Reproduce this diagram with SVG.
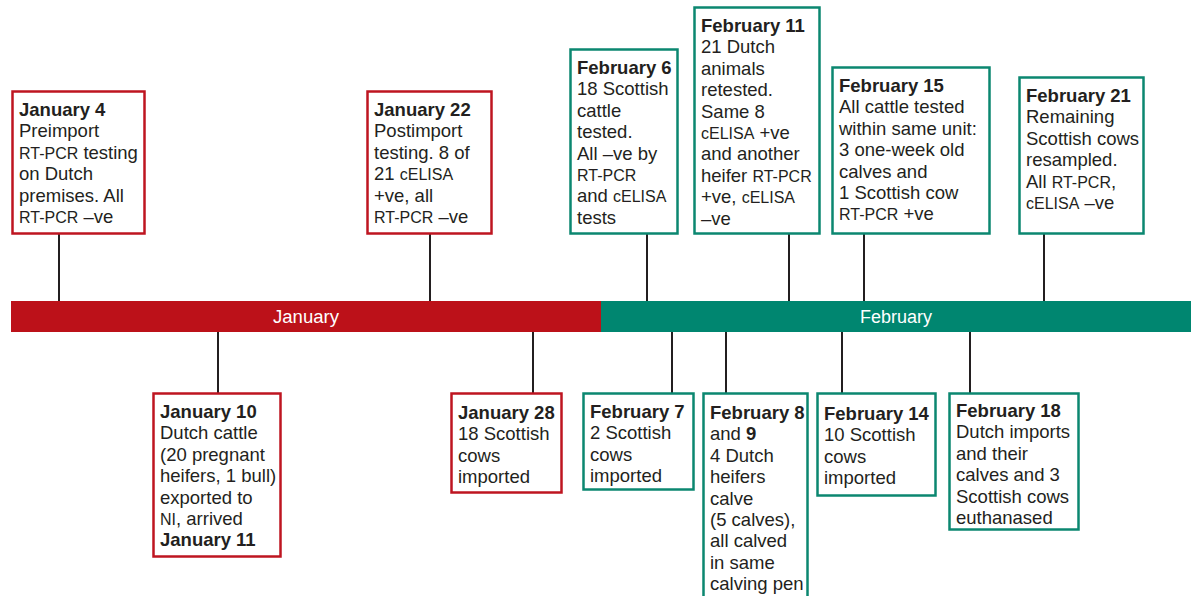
<svg xmlns="http://www.w3.org/2000/svg" width="1198" height="596" viewBox="0 0 1198 596">
<style>
.bg{fill:#ffffff}
.red{fill:#ffffff;stroke:#BE1520;stroke-width:2.5}
.grn{fill:#ffffff;stroke:#0B8770;stroke-width:2.5}
.t{font-family:"Liberation Sans",Arial,sans-serif;font-size:18.5px;fill:#231F20}
.b{font-weight:bold}
.s{font-size:16px}
.tick{stroke:#231F20;stroke-width:2}
.bar{font-family:"Liberation Sans",Arial,sans-serif;font-size:18px;fill:#ffffff;text-anchor:middle}
</style>
<rect class="bg" x="0" y="0" width="1198" height="596"/>
<g id="timeline">
<rect x="11" y="301" width="590" height="31" fill="#BC1119"/>
<rect x="601" y="301" width="590" height="31" fill="#008670"/>
<text class="bar" x="306" y="323" textLength="66" lengthAdjust="spacingAndGlyphs">January</text>
<text class="bar" x="896" y="323" textLength="72" lengthAdjust="spacingAndGlyphs">February</text>
</g>
<g id="connectors">
<line class="tick" x1="59" y1="234" x2="59" y2="301"/>
<line class="tick" x1="430" y1="234" x2="430" y2="301"/>
<line class="tick" x1="647" y1="234" x2="647" y2="301"/>
<line class="tick" x1="789" y1="234" x2="789" y2="301"/>
<line class="tick" x1="864" y1="234" x2="864" y2="301"/>
<line class="tick" x1="1044" y1="234" x2="1044" y2="301"/>
<line class="tick" x1="218" y1="332" x2="218" y2="393"/>
<line class="tick" x1="533" y1="332" x2="533" y2="393"/>
<line class="tick" x1="672" y1="332" x2="672" y2="393"/>
<line class="tick" x1="726" y1="332" x2="726" y2="393"/>
<line class="tick" x1="842" y1="332" x2="842" y2="393"/>
<line class="tick" x1="970" y1="332" x2="970" y2="393"/>
</g>
<g id="jan4">
<rect class="red" x="12.5" y="91.5" width="132" height="142"/>
<text class="t"><tspan class="b" x="19" y="116">January 4</tspan><tspan x="19" y="137.4">Preimport</tspan><tspan x="19" y="158.8"><tspan class="s">RT-PCR</tspan> testing</tspan><tspan x="19" y="180.2">on Dutch</tspan><tspan x="19" y="201.6">premises. All</tspan><tspan x="19" y="223"><tspan class="s">RT-PCR</tspan> –ve</tspan></text>
</g>
<g id="jan22">
<rect class="red" x="367.5" y="91.5" width="124" height="142"/>
<text class="t"><tspan class="b" x="374" y="116">January 22</tspan><tspan x="374" y="137.4">Postimport</tspan><tspan x="374" y="158.8">testing. 8 of</tspan><tspan x="374" y="180.2">21 <tspan class="s">cELISA</tspan></tspan><tspan x="374" y="201.6">+ve, all</tspan><tspan x="374" y="223"><tspan class="s">RT-PCR</tspan> –ve</tspan></text>
</g>
<g id="feb6">
<rect class="grn" x="570.5" y="49.5" width="107" height="184"/>
<text class="t"><tspan class="b" x="577" y="74">February 6</tspan><tspan x="577" y="95.4">18 Scottish</tspan><tspan x="577" y="116.8">cattle</tspan><tspan x="577" y="138.2">tested.</tspan><tspan x="577" y="159.6">All –ve by</tspan><tspan x="577" y="181"><tspan class="s">RT-PCR</tspan></tspan><tspan x="577" y="202.4">and <tspan class="s">cELISA</tspan></tspan><tspan x="577" y="223.8">tests</tspan></text>
</g>
<g id="feb11">
<rect class="grn" x="694.5" y="7.5" width="125" height="226"/>
<text class="t"><tspan class="b" x="701" y="32">February 11</tspan><tspan x="701" y="53.4">21 Dutch</tspan><tspan x="701" y="74.8">animals</tspan><tspan x="701" y="96.2">retested.</tspan><tspan x="701" y="117.6">Same 8</tspan><tspan x="701" y="139"><tspan class="s">cELISA</tspan> +ve</tspan><tspan x="701" y="160.4">and another</tspan><tspan x="701" y="181.8">heifer <tspan class="s">RT-PCR</tspan></tspan><tspan x="701" y="203.2">+ve, <tspan class="s">cELISA</tspan></tspan><tspan x="701" y="224.6">–ve</tspan></text>
</g>
<g id="feb15">
<rect class="grn" x="832.5" y="67.5" width="157" height="166"/>
<text class="t"><tspan class="b" x="839" y="92">February 15</tspan><tspan x="839" y="113.4">All cattle tested</tspan><tspan x="839" y="134.8">within same unit:</tspan><tspan x="839" y="156.2">3 one-week old</tspan><tspan x="839" y="177.6">calves and</tspan><tspan x="839" y="199">1 Scottish cow</tspan><tspan x="839" y="220.4"><tspan class="s">RT-PCR</tspan> +ve</tspan></text>
</g>
<g id="feb21">
<rect class="grn" x="1019.5" y="77.5" width="124" height="156"/>
<text class="t"><tspan class="b" x="1026" y="102">February 21</tspan><tspan x="1026" y="123.4">Remaining</tspan><tspan x="1026" y="144.8">Scottish cows</tspan><tspan x="1026" y="166.2">resampled.</tspan><tspan x="1026" y="187.6">All <tspan class="s">RT-PCR</tspan>,</tspan><tspan x="1026" y="209"><tspan class="s">cELISA</tspan> –ve</tspan></text>
</g>
<g id="jan10">
<rect class="red" x="153.5" y="393.5" width="127" height="163"/>
<text class="t"><tspan class="b" x="160" y="418">January 10</tspan><tspan x="160" y="439.4">Dutch cattle</tspan><tspan x="160" y="460.8">(20 pregnant</tspan><tspan x="160" y="482.2">heifers, 1 bull)</tspan><tspan x="160" y="503.6">exported to</tspan><tspan x="160" y="525"><tspan class="s">NI</tspan>, arrived</tspan><tspan class="b" x="160" y="546.4">January 11</tspan></text>
</g>
<g id="jan28">
<rect class="red" x="451.5" y="393.5" width="110" height="99"/>
<text class="t"><tspan class="b" x="458" y="419">January 28</tspan><tspan x="458" y="440.4">18 Scottish</tspan><tspan x="458" y="461.8">cows</tspan><tspan x="458" y="483.2">imported</tspan></text>
</g>
<g id="feb7">
<rect class="grn" x="583.5" y="393.5" width="110" height="96"/>
<text class="t"><tspan class="b" x="590" y="418">February 7</tspan><tspan x="590" y="439.4">2 Scottish</tspan><tspan x="590" y="460.8">cows</tspan><tspan x="590" y="482.2">imported</tspan></text>
</g>
<g id="feb8">
<rect class="grn" x="703.5" y="393.5" width="104" height="220"/>
<text class="t"><tspan class="b" x="710" y="419">February 8</tspan><tspan x="710" y="440.4">and <tspan class="b">9</tspan></tspan><tspan x="710" y="461.8">4 Dutch</tspan><tspan x="710" y="483.2">heifers</tspan><tspan x="710" y="504.6">calve</tspan><tspan x="710" y="526">(5 calves),</tspan><tspan x="710" y="547.4">all calved</tspan><tspan x="710" y="568.8">in same</tspan><tspan x="710" y="590.2">calving pen</tspan></text>
</g>
<g id="feb14">
<rect class="grn" x="817.5" y="393.5" width="118" height="102"/>
<text class="t"><tspan class="b" x="824" y="420">February 14</tspan><tspan x="824" y="441.4">10 Scottish</tspan><tspan x="824" y="462.8">cows</tspan><tspan x="824" y="484.2">imported</tspan></text>
</g>
<g id="feb18">
<rect class="grn" x="949.5" y="393.5" width="129" height="136"/>
<text class="t"><tspan class="b" x="956" y="417">February 18</tspan><tspan x="956" y="438.4">Dutch imports</tspan><tspan x="956" y="459.8">and their</tspan><tspan x="956" y="481.2">calves and 3</tspan><tspan x="956" y="502.6">Scottish cows</tspan><tspan x="956" y="524">euthanased</tspan></text>
</g>
</svg>
